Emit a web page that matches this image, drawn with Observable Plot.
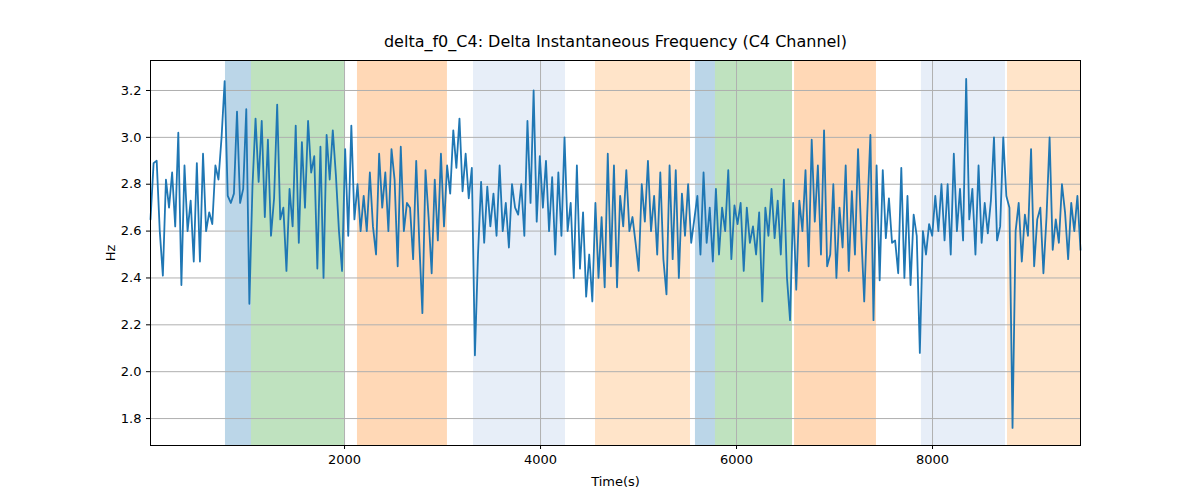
<!DOCTYPE html>
<html><head><meta charset="utf-8">
<script src="https://cdn.jsdelivr.net/npm/d3@7"></script>
<script src="https://cdn.jsdelivr.net/npm/@observablehq/plot@0.6"></script>
<style>body{margin:0;background:#fff;font-family:"DejaVu Sans",sans-serif}</style>
</head><body><div id="c"></div>
<script>
const startTime = 20, endTime = 9510;
const values = [
2.65,2.89,2.9,2.6,2.41,2.82,2.7,2.85,2.62,3.02,2.37,2.88,2.6,2.73,2.47,2.89,2.47,2.93,2.6,2.68,2.63,2.88,2.82,3.0,3.24,
2.75,2.72,2.76,3.11,2.72,2.78,3.12,2.29,
2.79,3.08,2.81,3.07,2.66,2.99,2.58,2.74,3.14,2.65,2.7,2.43,2.78,2.62,3.05,2.55,2.98,2.7,3.07,2.85,2.92,2.44,2.96,2.4,3.01,2.82,3.03,2.84,2.6,2.43,2.95,
2.58,3.05,2.65,2.8,
2.6,2.75,2.6,2.85,2.62,2.5,2.93,2.7,2.85,2.6,2.95,2.82,2.45,2.96,2.6,2.72,2.7,2.48,2.9,2.55,2.25,2.86,2.66,2.42,2.82,2.56,2.93,2.62,2.88,
2.76,3.03,2.87,3.08,2.77,2.93,2.74,2.87,
2.07,2.5,2.81,2.55,2.79,2.62,2.76,2.58,2.88,2.6,2.72,2.53,2.8,2.7,2.67,2.8,2.58,3.07,2.72,3.2,2.64,2.92,2.7,2.9,2.6,2.83,2.5,2.85,2.58,3.0,
2.6,2.72,2.4,2.88,2.44,2.68,2.32,2.5,2.3,2.72,
2.4,2.66,2.36,2.93,2.45,2.88,2.36,2.75,2.62,2.86,2.6,2.66,2.55,2.43,2.8,2.64,2.9,2.6,2.75,2.5,2.85,2.48,2.33,2.88,2.48,2.86,2.4,2.76,2.58,2.8,2.55,
2.65,2.75,2.5,2.85,2.55,2.7,2.47,2.78,
2.5,2.7,2.6,2.86,2.48,2.71,2.63,2.72,2.43,2.7,2.55,2.62,2.5,2.68,2.3,2.7,2.58,2.78,2.57,2.73,2.5,2.82,2.4,2.22,2.72,
2.35,2.73,2.6,2.86,2.45,2.99,2.64,2.88,2.5,3.03,2.45,2.5,2.8,2.4,2.7,2.53,2.88,2.43,2.77,2.5,2.95,2.6,2.3,2.68,3.01,2.22,2.88,
2.39,2.86,2.57,2.74,2.55,2.56,2.42,2.87,2.4,2.75,2.37,2.67,2.58,2.08,2.6,
2.5,2.63,2.58,2.75,2.6,2.8,2.56,2.8,2.5,2.93,2.6,2.78,2.56,3.25,2.65,2.78,2.5,2.88,2.55,2.72,2.59,2.73,3.0,2.56,2.62,3.0,2.75,
2.7,1.76,2.6,2.72,2.47,2.67,2.58,2.95,2.45,2.65,2.7,2.42,2.66,3.0,2.52,2.65,2.55,2.8,2.68,2.48,2.72,2.6,2.75,2.52
];
const n = values.length;
const data = values.map((v,i)=>({t: startTime + i*(endTime-startTime)/(n-1), v}));
const spanStart = [785,1050,2132,3316,4561,5581,5785,6592,7887,8765];
const spanEnd   = [1050,2000,3050,4255,5530,5785,6571,7428,8745,9510];
const spanColor = ["#1f77b4","#2ca02c","#ff7f0e","#aec7e8","#ffbb78","#1f77b4","#2ca02c","#ff7f0e","#aec7e8","#ffbb78"];
const spanOpacity = [0.3,0.3,0.3,0.3,0.4,0.3,0.3,0.3,0.3,0.4];
const spans = spanStart.map((s,i)=>({s,e:spanEnd[i],c:spanColor[i],o:spanOpacity[i]}));
const xTicks = [2000,4000,6000,8000];
const yTicks = [1.8,2.0,2.2,2.4,2.6,2.8,3.0,3.2];

const chart = Plot.plot({
  width: 1200, height: 500,
  marginLeft: 150, marginRight: 120, marginTop: 60, marginBottom: 55,
  style: {fontFamily: "DejaVu Sans", fontSize: "13px", color: "#000"},
  x: {domain: [20, 9510], ticks: xTicks, tickFormat: d=>String(d), label: "Time(s)", labelAnchor: "center", labelArrow: "none", labelOffset: 40},
  y: {domain: [1.685, 3.328], ticks: yTicks, tickFormat: d=>d.toFixed(1), label: "Hz", labelAnchor: "center", labelArrow: "none", labelOffset: 45},
  marks: [
    Plot.rectX(spans, {x1:"s", x2:"e", y1:1.685, y2:3.328, fill:"c", fillOpacity:"o"}),
    Plot.gridX(xTicks, {stroke:"#b0b0b0", strokeOpacity:1, strokeWidth:1}),
    Plot.gridY(yTicks, {stroke:"#b0b0b0", strokeOpacity:1, strokeWidth:1}),
    Plot.line(data, {x:"t", y:"v", stroke:"#1f77b4", strokeWidth:1.8}),
    Plot.frame({stroke:"#000"}),
    Plot.axisX({ticks: xTicks, tickFormat: d=>String(d), tickSize: 4, label: "Time(s)", labelAnchor:"center", labelArrow:"none", labelOffset: 40}),
    Plot.axisY({ticks: yTicks, tickFormat: d=>d.toFixed(1), tickSize: 4, label: "Hz", labelAnchor:"center", labelArrow:"none", labelOffset: 45}),
    Plot.text(["delta_f0_C4: Delta Instantaneous Frequency (C4 Channel)"], {frameAnchor:"top", dy:-14, fontSize:16, textAnchor:"middle", lineAnchor:"bottom"})
  ]
});
document.getElementById("c").appendChild(chart);
</script></body></html>
